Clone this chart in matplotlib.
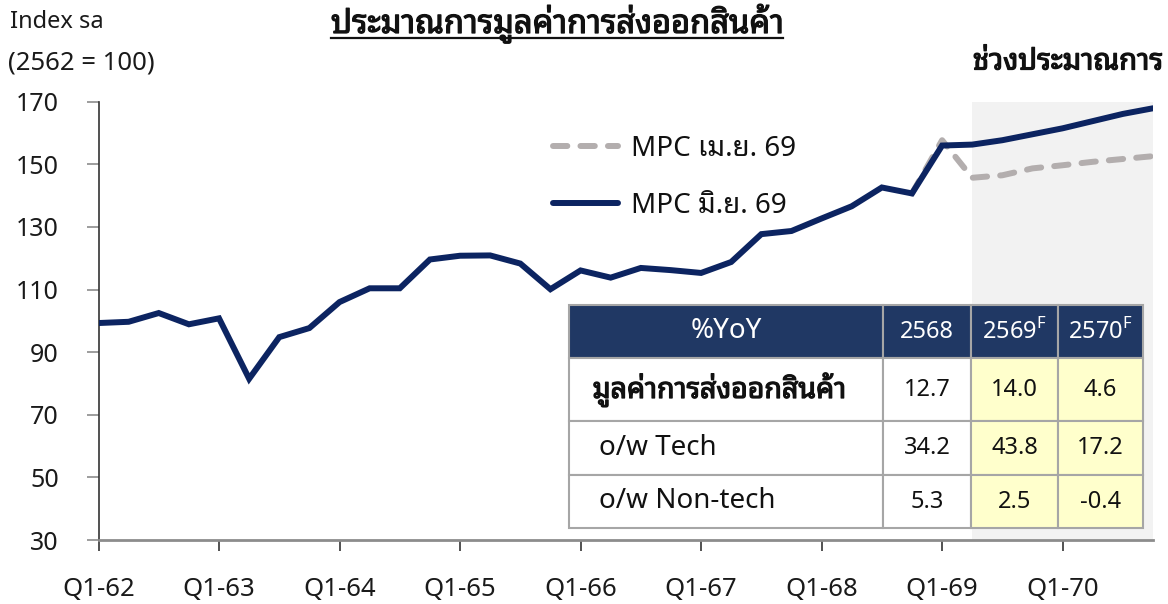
import matplotlib
matplotlib.use("Agg")
import matplotlib.pyplot as plt
from matplotlib import font_manager as fm
from matplotlib.ft2font import FT2Font
from matplotlib.lines import Line2D
import matplotlib.patheffects as pe

# ---------------- data ----------------
quarters = [f"Q{q}-{y}" for y in range(62, 71) for q in range(1, 5)]
xtick_labels = ["Q1-62", "Q1-63", "Q1-64", "Q1-65", "Q1-66", "Q1-67", "Q1-68", "Q1-69", "Q1-70"]
mpc_jun = [99.3, 99.7, 102.5, 98.9,
           100.8, 81.5, 94.8, 97.7,
           106.0, 110.4, 110.4, 119.6,
           120.8, 120.9, 118.3, 110.1,
           116.1, 113.8, 116.9, 116.2,
           115.3, 118.8, 127.7, 128.7,
           132.7, 136.6, 142.6, 140.7,
           156.0, 156.3, 157.7, 159.6,
           161.5, 163.8, 166.1, 167.9]
apr_quarters = ["Q4-68", "Q1-69", "Q2-69", "Q3-69", "Q4-69", "Q1-70", "Q2-70", "Q3-70", "Q4-70"]
mpc_apr = [140.7, 157.7, 145.7, 146.5, 148.7, 149.7, 150.8, 151.7, 152.6]
forecast_start = "Q2-69"
yticks = [30, 50, 70, 90, 110, 130, 150, 170]

table_header = ["%YoY", "2568", "2569$^{\\mathsf{F}}$", "2570$^{\\mathsf{F}}$"]
table_rows = ["มูลค่าการส่งออกสินค้า", "o/w Tech", "o/w Non-tech"]
table_2568 = ["12.7", "34.2", "5.3"]
table_2569 = ["14.0", "43.8", "2.5"]
table_2570 = ["4.6", "17.2", "-0.4"]

# ---------------- fonts ----------------
pref = ["Noto Sans Thai Looped", "Noto Looped Thai", "Noto Sans Thai", "Noto Sans Thai UI",
        "Sarabun", "Loma", "Garuda", "Waree", "Kinnari", "Norasi", "Tlwg Typo"]
found = []
for f in fm.fontManager.ttflist:
    try:
        ft = FT2Font(f.fname)
        if ft.get_char_index(0x0E01) and ft.get_char_index(0x0E2A):
            found.append(f.name)
    except Exception:
        pass
thai = None
for p in pref:
    if p in found:
        thai = p
        break
if thai is None and found:
    thai = found[0]
fams = ["Noto Sans"] + ([thai] if thai else []) + ["DejaVu Sans"]
plt.rcParams["font.family"] = fams
plt.rcParams["mathtext.fontset"] = "custom"
plt.rcParams["mathtext.sf"] = "Noto Sans"

NAVY = "#0c2461"
GREY_DASH = "#b3aeae"
TXT = "#111111"
bold_fx = [pe.withStroke(linewidth=0.9, foreground=TXT)]

fig = plt.figure(figsize=(11.68, 6.04), dpi=100)
W, H = 1168, 604
ax_l, ax_r, ax_t, ax_b = 98.5, 1153, 101.7, 540
ax = fig.add_axes([ax_l / W, 1 - ax_b / H, (ax_r - ax_l) / W, (ax_b - ax_t) / H])

xi = list(range(len(quarters)))
ax.axvspan(quarters.index(forecast_start), len(quarters) - 1, color="#f2f2f2", zorder=0, lw=0)

apr_x = [quarters.index(q) for q in apr_quarters]
l_apr, = ax.plot(apr_x, mpc_apr, color=GREY_DASH, lw=4.3, ls=(0, (2.4, 2.2)),
                 dash_capstyle="round", zorder=2)
l_jun, = ax.plot(xi, mpc_jun, color=NAVY, lw=4.3, solid_capstyle="round",
                 solid_joinstyle="miter", zorder=3)

ax.set_xlim(0, len(quarters) - 1)
ax.set_ylim(30, 170)
ax.set_yticks(yticks)
ax.set_xticks([quarters.index(q) for q in xtick_labels])
ax.set_xticklabels(xtick_labels)
for s in ["top", "right"]:
    ax.spines[s].set_visible(False)
ax.spines["left"].set_color("#333333")
ax.spines["left"].set_linewidth(1.2)
ax.spines["bottom"].set_color("#8c8c8c")
ax.spines["bottom"].set_linewidth(2)
ax.tick_params(axis="y", direction="out", length=8.5, width=1.2, color="#8c8c8c",
               pad=20, labelsize=18, labelcolor="#1a1a1a")
ax.tick_params(axis="x", direction="out", length=8, width=1.2, color="#333333",
               pad=19, labelsize=18.5, labelcolor="#1a1a1a")
ax.set_facecolor("none")

leg = ax.legend([l_apr, l_jun], ["MPC เม.ย. 69", "MPC มิ.ย. 69"], loc="upper left",
                bbox_to_anchor=(0.431, 0.925), frameon=False, fontsize=20,
                handlelength=2.35, handletextpad=0.45, labelspacing=1.05,
                borderpad=0, borderaxespad=0)
for t in leg.get_texts():
    t.set_color(TXT)

# ---------------- texts ----------------
fig.text(10 / W, 1 - 22 / H, "Index sa", fontsize=17, va="center", ha="left", color="#1a1a1a")
fig.text(8 / W, 1 - 63 / H, "(2562 = 100)", fontsize=18.5, va="center", ha="left", color="#1a1a1a")
title = fig.text(557 / W, 1 - 33 / H, "ประมาณการมูลค่าการส่งออกสินค้า", fontsize=23.5,
                 ha="center", va="baseline", color=TXT, path_effects=bold_fx)
fig.text(1163 / W, 1 - 62 / H, "ช่วงประมาณการ", fontsize=21,
         ha="right", va="center", color=TXT, path_effects=bold_fx)

# ---------------- table ----------------
cell_text = [[table_rows[i], table_2568[i], table_2569[i], table_2570[i]] for i in range(3)]
tx0 = (569 - ax_l) / (ax_r - ax_l)
tw = 574 / (ax_r - ax_l)
ty0 = (ax_b - 528) / (ax_b - ax_t)
th = 223 / (ax_b - ax_t)
tbl = ax.table(cellText=cell_text, colLabels=table_header, bbox=[tx0, ty0, tw, th],
               cellLoc="center", zorder=5)
tbl.auto_set_font_size(False)
col_w = [314, 88, 87, 85]
row_h = [53, 63, 54, 53]
for (r, c), cell in tbl.get_celld().items():
    cell.set_width(col_w[c])
    cell.set_height(row_h[r])
    cell.set_edgecolor("#a6a6a6")
    cell.set_linewidth(1.5)
    t = cell.get_text()
    if r == 0:
        cell.set_facecolor("#203864")
        t.set_color("white")
        t.set_fontsize(20 if c == 0 else 17)
    else:
        cell.set_facecolor("#ffffcc" if c >= 2 else "white")
        t.set_color(TXT)
        t.set_fontsize(17)
        if c == 0:
            cell._loc = "left"
            t.set_ha("left")
            if r == 1:
                cell.PAD = 0.075
                t.set_fontsize(20.5)
                t.set_path_effects(bold_fx)
            else:
                cell.PAD = 0.095
                t.set_fontsize(20)
        t.set_va("center")

# underline title
fig.canvas.draw()
bb = title.get_window_extent()
uy = 1 - 38 / H
fig.add_artist(Line2D([bb.x0 / W, bb.x1 / W], [uy, uy], transform=fig.transFigure,
                      color=TXT, lw=1.6))

fig.savefig("out.png", dpi=100)
